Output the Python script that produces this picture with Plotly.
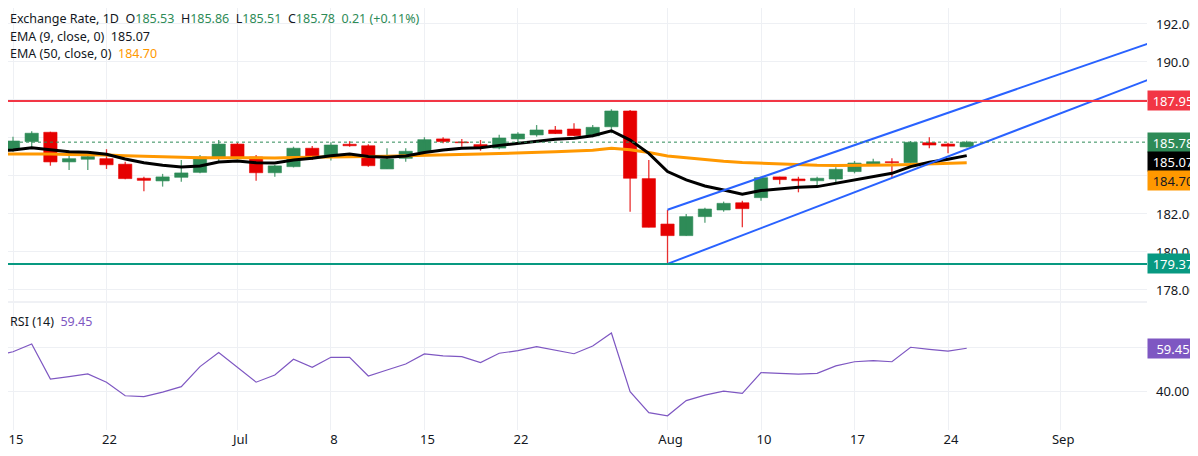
"""Exchange rate daily candles with EMA 9/50, trend channel and RSI(14) pane."""

import pandas as pd
import plotly.graph_objects as go
from plotly.subplots import make_subplots

# trading days, each bar stamped at noon so the weekend breaks never clip a body
DATES = pd.bdate_range("2020-06-12", "2020-08-25") + pd.Timedelta(hours=12)

OPEN = [185.05,
        185.41, 185.81, 186.30, 184.74, 184.88,
        184.91, 184.62, 183.88, 183.74, 183.93,
        184.19, 184.98, 185.68, 185.00, 184.17,
        184.49, 185.46, 184.98, 185.67, 185.59,
        184.37, 184.93, 185.26, 185.95, 185.79,
        185.65, 185.47, 185.95, 186.16, 186.42,
        186.47, 186.11, 186.59, 187.42, 183.86,
        181.47, 180.86, 181.86, 182.21, 182.59,
        182.86, 183.95, 183.84, 183.75, 183.84,
        184.23, 184.63, 184.75, 184.70, 185.75,
        185.68, 185.53]
HIGH = [185.50,
        186.07, 186.35, 186.33, 185.33, 185.19,
        185.41, 184.75, 183.96, 184.11, 184.84,
        185.11, 185.89, 185.75, 185.11, 184.58,
        185.54, 185.58, 185.77, 185.83, 185.67,
        185.46, 185.46, 186.04, 186.04, 185.95,
        185.89, 186.17, 186.30, 186.68, 186.63,
        186.77, 186.68, 187.51, 187.47, 184.84,
        182.21, 182.00, 182.33, 182.65, 182.70,
        183.96, 183.96, 183.96, 183.96, 184.46,
        184.79, 184.91, 184.93, 185.84, 186.04,
        185.75, 185.86]
LOW = [184.95,
       185.28, 185.51, 184.54, 184.32, 184.32,
       184.37, 183.83, 183.19, 183.44, 183.70,
       184.14, 184.75, 184.88, 183.75, 183.96,
       184.45, 184.84, 184.81, 185.54, 184.49,
       184.37, 184.75, 185.19, 185.72, 185.54,
       185.33, 185.41, 185.77, 186.07, 186.21,
       186.11, 186.04, 186.25, 182.12, 181.30,
       179.37, 180.86, 181.54, 182.12, 181.30,
       182.70, 183.56, 183.14, 183.44, 183.62,
       184.14, 184.54, 183.91, 184.70, 185.46,
       185.19, 185.51]
CLOSE = [185.35,
         185.84, 186.25, 184.74, 184.91, 185.02,
         184.59, 183.86, 183.77, 183.95, 184.16,
         185.00, 185.68, 184.96, 184.17, 184.53,
         185.46, 184.98, 185.63, 185.59, 184.54,
         184.89, 185.30, 185.91, 185.81, 185.75,
         185.51, 186.00, 186.21, 186.42, 186.23,
         186.12, 186.56, 187.42, 183.88, 181.30,
         180.86, 181.86, 182.26, 182.56, 182.28,
         183.91, 183.81, 183.75, 183.88, 184.35,
         184.68, 184.75, 184.70, 185.77, 185.63,
         185.57, 185.78]

EMA9 = [185.22,
        185.37, 185.49, 185.37, 185.28, 185.25,
        185.14, 184.89, 184.70, 184.56, 184.47,
        184.53, 184.74, 184.79, 184.70, 184.68,
        184.84, 184.93, 185.06, 185.15, 185.03,
        184.98, 185.05, 185.23, 185.37, 185.46,
        185.49, 185.61, 185.72, 185.83, 185.93,
        185.98, 186.12, 186.38, 185.89, 185.19,
        184.23, 183.79, 183.47, 183.26, 183.04,
        183.23, 183.33, 183.40, 183.44, 183.62,
        183.79, 183.96, 184.14, 184.49, 184.72,
        184.88, 185.07]
EMA50 = [185.17,
         185.18, 185.18, 185.15, 185.13, 185.12,
         185.10, 185.06, 185.03, 185.00, 184.98,
         184.96, 184.96, 184.95, 184.95, 184.95,
         184.97, 184.98, 184.99, 185.01, 185.02,
         185.04, 185.07, 185.10, 185.12, 185.14,
         185.16, 185.18, 185.20, 185.23, 185.27,
         185.31, 185.36, 185.46, 185.38, 185.23,
         185.05, 184.96, 184.85, 184.77, 184.71,
         184.67, 184.62, 184.58, 184.56, 184.55,
         184.55, 184.56, 184.58, 184.60, 184.64,
         184.68, 184.70]
RSI = [52.4,
       57.9, 61.4, 45.6, 46.7, 47.9,
       44.2, 38.1, 37.7, 39.7, 42.2,
       51.2, 57.5, 50.9, 44.2, 47.4,
       54.5, 50.9, 55.4, 55.4, 47.0,
       49.7, 52.4, 56.9, 56.0, 55.7,
       53.0, 57.2, 58.4, 60.2, 58.7,
       57.0, 60.5, 66.3, 39.9, 30.5,
       29.1, 35.9, 38.4, 40.2, 39.2,
       48.5, 48.2, 47.8, 48.2, 51.5,
       53.4, 53.9, 53.4, 59.9, 59.0,
       58.2, 59.45]

RESISTANCE = 187.95
SUPPORT = 179.37
LAST_CLOSE = 185.78
LAST_EMA9 = 185.07
LAST_EMA50 = 184.70
LAST_RSI = 59.45

# channel drawn from the Aug 3 low/high out past the last bar
TREND_X = ["2020-08-03 12:00", "2020-09-09 12:00"]
UPPER_TREND_Y = [182.22, 191.41]
LOWER_TREND_Y = [179.37, 189.55]

PRICE_TICKS = [178, 180, 182, 184, 186, 188, 190, 192]
PRICE_TICK_TEXT = ["178.00", "180.00", "182.00", "", "", "", "190.00", "192.00"]
RSI_TICKS = [40, 60]
RSI_TICK_TEXT = ["40.00", ""]
DATE_TICKS = ["2020-06-15", "2020-06-22", "2020-07-01", "2020-07-08", "2020-07-15", "2020-07-22",
              "2020-08-03", "2020-08-10", "2020-08-17", "2020-08-24", "2020-09-01"]
DATE_TICK_TEXT = ["15", "22", "Jul", "8", "15", "22", "Aug", "10", "17", "24", "Sep"]

UP = "#2e8b57"
DOWN = "#e60000"
GRID = "#eef0f4"
TEXT = "#131722"
FONT = "Noto Sans"
DAY_MS = 86400000

# the page body keeps its default 8px margin, so the figure is 8px smaller than the window
W, H = 1190, 448

fig = make_subplots(rows=2, cols=1, shared_xaxes=True, vertical_spacing=0.005)

colors = [UP if c >= o else DOWN for o, c in zip(OPEN, CLOSE)]
body_lo = [min(o, c) for o, c in zip(OPEN, CLOSE)]
body_h = [abs(c - o) for o, c in zip(OPEN, CLOSE)]

# wicks first, bodies over them
for col in (UP, DOWN):
    wx, wy = [], []
    for d, h, l, c in zip(DATES, HIGH, LOW, colors):
        if c == col:
            wx += [d, d, None]
            wy += [l, h, None]
    fig.add_trace(go.Scatter(x=wx, y=wy, mode="lines", line=dict(color=col, width=1.3),
                             opacity=0.8, hoverinfo="skip", showlegend=False), row=1, col=1)

fig.add_trace(go.Bar(x=DATES, y=body_h, base=body_lo, width=0.71 * DAY_MS,
                     marker=dict(color=colors, line=dict(color=colors, width=0.6)),
                     hoverinfo="skip", showlegend=False), row=1, col=1)

fig.add_trace(go.Scatter(x=DATES, y=EMA50, mode="lines", line=dict(color="#ff9800", width=3),
                         showlegend=False), row=1, col=1)
fig.add_trace(go.Scatter(x=DATES, y=EMA9, mode="lines", line=dict(color="#000000", width=3),
                         showlegend=False), row=1, col=1)

for ty in (UPPER_TREND_Y, LOWER_TREND_Y):
    fig.add_trace(go.Scatter(x=TREND_X, y=ty, mode="lines", line=dict(color="#2962ff", width=2),
                             showlegend=False), row=1, col=1)

fig.add_hline(y=RESISTANCE, line=dict(color="#f23645", width=2), row=1, col=1)
fig.add_hline(y=SUPPORT, line=dict(color="#089981", width=2), row=1, col=1)
fig.add_hline(y=LAST_CLOSE, line=dict(color=UP, width=1, dash="dot"), row=1, col=1)

# RSI pane
fig.add_hrect(y0=30, y1=70, fillcolor="rgba(126,87,194,0.1)", line_width=0, layer="below", row=2, col=1)
fig.add_hline(y=70, line=dict(color="rgba(120,123,134,0.55)", width=1, dash="dash"), row=2, col=1)
fig.add_hline(y=50, line=dict(color="#787b86", width=1, dash="dash"), row=2, col=1)
fig.add_hline(y=30, line=dict(color="rgba(120,123,134,0.55)", width=1, dash="dash"), row=2, col=1)
fig.add_trace(go.Scatter(x=DATES, y=RSI, mode="lines", line=dict(color="#7e57c2", width=1.2),
                         showlegend=False), row=2, col=1)

xcommon = dict(type="date", range=["2020-06-15 05:35", "2020-09-08 03:22"],
               rangebreaks=[dict(bounds=["sat", "mon"])],
               tickvals=[d + " 12:00" for d in DATE_TICKS], ticktext=DATE_TICK_TEXT,
               showgrid=True, gridcolor=GRID, zeroline=False, showline=False, ticks="",
               automargin=False, ticklabeloverflow="allow", ticklabelshift=3,
               tickfont=dict(family=FONT, size=13, color=TEXT))
fig.update_xaxes(**xcommon)
fig.update_xaxes(showticklabels=False, row=1, col=1)
fig.update_xaxes(showticklabels=True, row=2, col=1)

ycommon = dict(side="right", showgrid=True, gridcolor=GRID, zeroline=False, showline=False,
               ticks="", ticklabelstandoff=8, automargin=False,
               tickfont=dict(family=FONT, size=13, color=TEXT))
fig.update_yaxes(**ycommon)
fig.update_yaxes(range=[177.42, 192.84], tickvals=PRICE_TICKS, ticktext=PRICE_TICK_TEXT,
                 domain=[0.3057, 1.0], row=1, col=1)
fig.update_yaxes(range=[22.7, 79.8], tickvals=RSI_TICKS, ticktext=RSI_TICK_TEXT,
                 domain=[0.0, 0.3009], row=2, col=1)


def tag(text, y, yref, bg, fg="white", yshift=0):
    fig.add_annotation(text=text, x=1, xref="paper", xanchor="left", y=y, yref=yref,
                       yanchor="middle", yshift=yshift, showarrow=False, bgcolor=bg,
                       font=dict(family=FONT, size=13, color=fg), width=46, height=15,
                       borderpad=2, align="center")


tag("%.2f" % RESISTANCE, RESISTANCE, "y", "#f23645")
tag("%.2f" % LAST_CLOSE, LAST_CLOSE, "y", UP)
tag("%.2f" % LAST_EMA9, LAST_EMA9, "y", "#000000", yshift=-6)
tag("%.2f" % LAST_EMA50, LAST_EMA50, "y", "#ff9800", fg=TEXT, yshift=-18)
tag("%.2f" % SUPPORT, SUPPORT, "y", "#089981")
tag("%.2f" % LAST_RSI, LAST_RSI, "y2", "#7e57c2")

sp = "\u00a0"
g = lambda v: '<span style="color:%s">%s</span>' % (UP, v)
header = [
    "Exchange Rate, 1D" + sp * 2 + "O" + g("%.2f" % OPEN[-1]) + sp * 2 + "H" + g("%.2f" % HIGH[-1])
    + sp * 2 + "L" + g("%.2f" % LOW[-1]) + sp * 2 + "C" + g("%.2f" % CLOSE[-1]) + sp * 2
    + g("%.2f (+%.2f%%)" % (CLOSE[-1] - CLOSE[-2], (CLOSE[-1] - CLOSE[-2]) / CLOSE[-2] * 100)),
    "EMA (9, close, 0)" + sp * 2 + "%.2f" % LAST_EMA9,
    "EMA (50, close, 0)" + sp * 2 + '<span style="color:#ff9800">%.2f</span>' % LAST_EMA50,
]
for i, line in enumerate(header):
    fig.add_annotation(text=line, x=0, xref="paper", xanchor="left", xshift=0,
                       y=1, yref="paper", yanchor="top", yshift=0 - 17.5 * i,
                       showarrow=False, font=dict(family=FONT, size=12.5, color=TEXT))
fig.add_annotation(text="RSI (14)" + sp * 2 + '<span style="color:#7e57c2">%.2f</span>' % LAST_RSI,
                   x=0, xref="paper", xanchor="left", xshift=0, y=1, yref="y2 domain",
                   yanchor="middle", yshift=-18, showarrow=False,
                   font=dict(family=FONT, size=12.5, color=TEXT))

# pane separator
fig.add_shape(type="line", xref="paper", yref="paper", x0=0, x1=1, y0=0.3033, y1=0.3033,
              line=dict(color="#e0e3eb", width=1))

fig.update_layout(width=W, height=H, margin=dict(l=0, r=51, t=0, b=26),
                  plot_bgcolor="white", paper_bgcolor="white", barmode="overlay",
                  showlegend=False, font=dict(family=FONT, size=13, color=TEXT))

fig.write_html("out.html")
